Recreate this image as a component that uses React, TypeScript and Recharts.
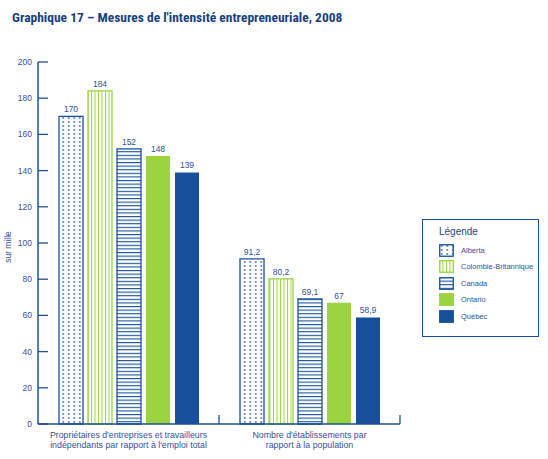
import { BarChart, Bar, XAxis, YAxis, LabelList } from "recharts"

const categories = [
  ["Propriétaires d'entreprises et travailleurs", "indépendants par rapport à l'emploi total"],
  ["Nombre d'établissements par", "rapport à la population"],
]
const alberta = [170, 91.2]
const colombieBritannique = [184, 80.2]
const canada = [152, 69.1]
const ontario = [148, 67]
const quebec = [139, 58.9]
const yTicks = [0, 20, 40, 60, 80, 100, 120, 140, 160, 180, 200]

const NAVY = "#17509a"
const GREEN = "#9bd43e"
const AXIS = "#1d4f94"
const TEXT = "#34509c"
const FONT = "'Liberation Sans', Arial, sans-serif"

const series = [
  { key: "alberta", name: "Alberta", fill: "url(#dots)", stroke: NAVY },
  { key: "cb", name: "Colombie-Britannique", fill: "url(#vlines)", stroke: GREEN },
  { key: "canada", name: "Canada", fill: "url(#hlines)", stroke: NAVY },
  { key: "ontario", name: "Ontario", fill: GREEN, stroke: "none" },
  { key: "quebec", name: "Québec", fill: NAVY, stroke: "none" },
]

const rows = categories.map((lines, i) => ({
  cat: lines.join(" "),
  lines,
  alberta: alberta[i],
  cb: colombieBritannique[i],
  canada: canada[i],
  ontario: ontario[i],
  quebec: quebec[i],
}))

const PLOT_LEFT = 38
const PLOT_RIGHT = 400
const PLOT_TOP = 62
const PLOT_BOTTOM = 424
const BAND = (PLOT_RIGHT - PLOT_LEFT) / categories.length

const fmt = (v: number) => String(v).replace(".", ",")

function YTick({ y, payload }: any) {
  return (
    <g>
      <line x1={PLOT_LEFT} x2={PLOT_LEFT + 10} y1={y} y2={y} stroke={AXIS} strokeWidth={1.3} />
      <text x={PLOT_LEFT - 6} y={y} dy={3} textAnchor="end" fontSize={8.5} fill={TEXT} fontFamily={FONT}>
        {payload.value}
      </text>
    </g>
  )
}

function XTick({ x, payload, index }: any) {
  const lines = rows[index]?.lines ?? [payload.value]
  const edge = x + BAND / 2
  return (
    <g>
      <line x1={edge} x2={edge} y1={PLOT_BOTTOM} y2={PLOT_BOTTOM - 9} stroke={AXIS} strokeWidth={1.3} />
      {lines.map((l: string, i: number) => (
        <text key={i} x={x} y={PLOT_BOTTOM + 14 + i * 10} textAnchor="middle" fontSize={8.8} fill={TEXT} fontFamily={FONT}>
          {l}
        </text>
      ))}
    </g>
  )
}

function LegendBox() {
  return (
    <div
      style={{
        position: "absolute",
        left: 422,
        top: 219,
        width: 117,
        height: 118,
        border: `1.5px solid ${AXIS}`,
        background: "#fff",
        fontFamily: FONT,
        color: TEXT,
        boxSizing: "border-box",
        padding: "6px 0 0 16px",
      }}
    >
      <div style={{ fontSize: 10, marginBottom: 5, color: "#2c3f86" }}>Légende</div>
      {series.map((s) => (
        <div key={s.key} style={{ display: "flex", alignItems: "center", height: 16.5 }}>
          <svg width={15} height={13} style={{ marginRight: 7 }}>
            <rect
              x={0.75}
              y={0.75}
              width={13.5}
              height={11.5}
              fill={s.fill}
              stroke={s.stroke === "none" ? s.fill : s.stroke}
              strokeWidth={1.3}
            />
          </svg>
          <span style={{ fontSize: 7.5 }}>{s.name}</span>
        </div>
      ))}
    </div>
  )
}

export default function App() {
  return (
    <div style={{ position: "absolute", left: 0, top: 0, width: 548, height: 459, background: "#fff" }}>
      <svg width={0} height={0} style={{ position: "absolute" }}>
        <defs>
          <pattern id="dots" patternUnits="userSpaceOnUse" width={5.5} height={4}>
            <rect width={5.5} height={4} fill="#fff" />
            <rect x={2} y={1.2} width={1.5} height={1.5} fill={NAVY} />
          </pattern>
          <pattern id="vlines" patternUnits="userSpaceOnUse" width={3.5} height={4}>
            <rect width={3.5} height={4} fill="#fff" />
            <rect x={0} y={0} width={1} height={4} fill={GREEN} />
          </pattern>
          <pattern id="hlines" patternUnits="userSpaceOnUse" width={4} height={3.6}>
            <rect width={4} height={3.6} fill="#fff" />
            <rect x={0} y={0} width={4} height={1.1} fill={NAVY} />
          </pattern>
        </defs>
      </svg>
      <div
        style={{
          position: "absolute",
          left: 12,
          top: 9,
          fontFamily: "'Liberation Sans Narrow', 'Roboto Condensed', 'Liberation Sans', Arial, sans-serif",
          fontWeight: 700,
          fontSize: 13.5,
          color: "#1b3f80",
          whiteSpace: "nowrap",
        }}
      >
        Graphique 17 – Mesures de l'intensité entrepreneuriale, 2008
      </div>
      <div
        style={{
          position: "absolute",
          left: 8,
          top: 247,
          transform: "translate(-50%, -50%) rotate(-90deg)",
          fontFamily: FONT,
          fontSize: 8.5,
          color: TEXT,
          whiteSpace: "nowrap",
        }}
      >
        sur mille
      </div>
      <BarChart
        width={548}
        height={459}
        data={rows}
        margin={{ top: PLOT_TOP, right: 548 - PLOT_RIGHT, left: 0, bottom: 5 }}
        barSize={24}
        barGap={5}
        style={{ position: "absolute", left: 0, top: 0 }}
      >
        <XAxis
          dataKey="cat"
          height={459 - PLOT_BOTTOM - 5}
          axisLine={{ stroke: AXIS, strokeWidth: 1.5 }}
          tickLine={false}
          tick={<XTick />}
          interval={0}
        />
        <YAxis
          width={PLOT_LEFT}
          domain={[0, 200]}
          ticks={yTicks}
          axisLine={{ stroke: AXIS, strokeWidth: 1.5 }}
          tickLine={false}
          tick={<YTick />}
        />
        {series.map((s) => (
          <Bar
            key={s.key}
            dataKey={s.key}
            name={s.name}
            fill={s.fill}
            stroke={s.stroke}
            strokeWidth={s.stroke === "none" ? 0 : 1.3}
            isAnimationActive={false}
          >
            <LabelList
              dataKey={s.key}
              position="top"
              offset={4}
              formatter={(v: any) => fmt(v)}
              style={{ fontSize: 8.5, fill: TEXT, fontFamily: FONT }}
            />
          </Bar>
        ))}
      </BarChart>
      <LegendBox />
    </div>
  )
}
